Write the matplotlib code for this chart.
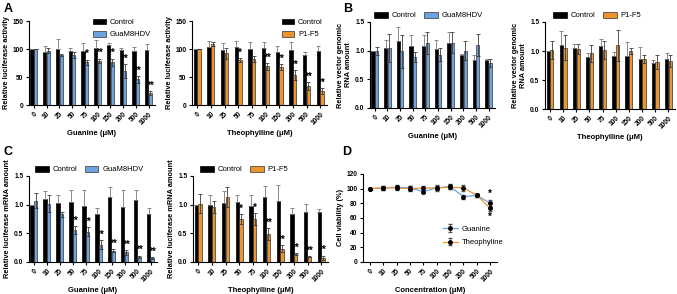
import matplotlib as mpl
mpl.use("agg")
import matplotlib.pyplot as plt
import numpy as np

plt.rcParams['font.family'] = ['Liberation Sans', 'DejaVu Sans']
plt.rcParams['font.weight'] = 'bold'

conc = ['0', '10', '25', '50', '75', '100', '150', '200', '500', '1000']

BLUE = '#6fa3e0'
ORANGE = '#eb9430'

# panel A - luciferase activity
a_gua_ctrl = [100, 95, 100, 97, 96, 101, 108, 99, 96, 98]
a_gua_ctrl_sd = [0, 10, 17, 5, 14, 15, 3, 3, 8, 11]
a_gua = [100, 97, 89, 89, 76, 79, 76, 61, 46, 21]
a_gua_sd = [0, 5, 2, 5, 5, 4, 7, 12, 6, 4]
a_gua_star = ['', '', '', '', '*', '**', '**', '**', '**', '**']

a_theo_ctrl = [100, 104, 98, 104, 100, 101, 95, 99, 90, 96]
a_theo_ctrl_sd = [0, 10, 12, 10, 13, 12, 10, 14, 4, 10]
a_theo = [100, 109, 92, 80, 82, 69, 68, 53, 34, 25]
a_theo_sd = [0, 3, 10, 4, 6, 6, 5, 9, 7, 5]
a_theo_star = ['', '', '', '*', '', '**', '**', '**', '**', '**']

# panel B - vector genomic RNA
b_gua_ctrl = [1.0, 1.05, 1.17, 1.09, 1.09, 1.03, 1.13, 0.92, 0.83, 0.83]
b_gua_ctrl_sd = [0, 0.14, 0.24, 0.18, 0.18, 0.16, 0.19, 0.03, 0.10, 0.03]
b_gua = [1.0, 1.05, 0.99, 0.89, 1.14, 0.93, 1.14, 1.00, 1.10, 0.79]
b_gua_sd = [0.07, 0.24, 0.29, 0.08, 0.19, 0.11, 0.18, 0.17, 0.19, 0.07]

b_theo_ctrl = [1.0, 1.10, 1.05, 0.90, 1.08, 0.91, 0.92, 0.87, 0.80, 0.87]
b_theo_ctrl_sd = [0, 0.25, 0.07, 0.06, 0.13, 0.07, 0.24, 0.20, 0.05, 0.10]
b_theo = [1.02, 1.06, 1.03, 0.96, 1.02, 1.10, 1.00, 0.86, 0.81, 0.83]
b_theo_sd = [0.15, 0.21, 0.09, 0.15, 0.15, 0.27, 0.05, 0.07, 0.12, 0.10]

# panel C - luciferase mRNA
c_gua_ctrl = [1.0, 1.10, 1.03, 1.05, 0.98, 0.84, 1.13, 0.96, 1.08, 0.83]
c_gua_ctrl_sd = [0, 0.14, 0.14, 0.21, 0.27, 0.10, 0.18, 0.29, 0.18, 0.11]
c_gua = [1.07, 1.02, 0.83, 0.55, 0.53, 0.30, 0.20, 0.17, 0.09, 0.07]
c_gua_sd = [0.13, 0.15, 0.05, 0.07, 0.08, 0.08, 0.02, 0.04, 0.02, 0.02]
c_gua_star = ['', '', '', '**', '**', '**', '**', '**', '**', '**']

c_theo_ctrl = [1.0, 0.99, 1.03, 1.05, 0.98, 1.14, 1.06, 0.84, 0.87, 0.87]
c_theo_ctrl_sd = [0, 0.17, 0.20, 0.12, 0.18, 0.18, 0.29, 0.10, 0.15, 0.06]
c_theo = [1.02, 0.96, 1.13, 0.75, 0.75, 0.49, 0.23, 0.14, 0.09, 0.07]
c_theo_sd = [0.17, 0.11, 0.17, 0.09, 0.10, 0.10, 0.06, 0.02, 0.01, 0.04]
c_theo_star = ['', '', '', '*', '*', '**', '**', '**', '**', '**']

# panel D - cell viability
d_gua = [100, 101, 102, 101, 96, 101, 103, 89, 91, 80]
d_gua_sd = [1, 3, 3, 3, 2, 3, 3, 3, 2, 5]
d_theo = [100, 101, 101, 100, 101, 101, 102, 101, 91, 73]
d_theo_sd = [1, 3, 3, 3, 3, 4, 3, 4, 2, 3]

W, H = 677, 294
fig = plt.figure(figsize=(W / 100, H / 100), dpi=100)
LEG = {'weight': 'normal', 'size': 5.5}


def add_ax(l, t, r, b):
    return fig.add_axes([l / W, 1 - b / H, (r - l) / W, (b - t) / H])


def style(ax, ymax, ystep, ylabel, xlabel, fmt):
    ax.set_ylim(0, ymax)
    ticks = np.arange(0, ymax + ystep / 2, ystep)
    ax.set_yticks(ticks)
    ax.set_yticklabels([fmt.format(v) for v in ticks])
    ax.set_xticks(range(10))
    ax.set_xticklabels(conc, rotation=45, ha='right', rotation_mode='anchor')
    ax.spines['top'].set_visible(False)
    ax.spines['right'].set_visible(False)
    for s in ('left', 'bottom'):
        ax.spines[s].set_linewidth(0.8)
    ax.tick_params(labelsize=4.8, width=0.8, length=2.5, pad=1.5)
    ax.set_ylabel(ylabel, fontsize=5.3, fontweight='bold', labelpad=2)
    ax.set_xlabel(xlabel, fontsize=5.5, fontweight='bold', labelpad=3)


def bars(ax, ctrl, ctrl_sd, trt, trt_sd, color, name, stars=None):
    x = np.arange(10)
    w = 0.25
    off = 0.14
    ax.bar(x - off, ctrl, w, color='black', edgecolor='black', lw=0.5, label='Control', zorder=2)
    ax.bar(x + off, trt, w, color=color, edgecolor='#333333', lw=0.5, label=name, zorder=2)
    ax.errorbar(x - off, ctrl, yerr=[np.zeros(10), ctrl_sd], fmt='none',
                ecolor='#777777', elinewidth=0.6, capsize=1.3, capthick=0.6, zorder=3)
    ax.errorbar(x + off, trt, yerr=trt_sd, fmt='none',
                ecolor='#3a3a3a', elinewidth=0.6, capsize=1.3, capthick=0.6, zorder=3)
    ax.set_xlim(-0.38, 9.5)
    if stars:
        top = ax.get_ylim()[1]
        for i, s in enumerate(stars):
            if s:
                ax.text(i + off, trt[i] + trt_sd[i] + 0.005 * top, s, ha='center',
                        va='bottom', fontsize=7, fontweight='bold')


# A
ax = add_ax(29, 21, 155, 105)
style(ax, 150, 50, 'Relative luciferase activity', 'Guanine (\u03bcM)', '{:.0f}')
bars(ax, a_gua_ctrl, a_gua_ctrl_sd, a_gua, a_gua_sd, BLUE, 'GuaM8HDV', a_gua_star)
ax.legend(loc='upper right', bbox_to_anchor=(1.02, 1.11), frameon=False,
          handlelength=1.6, handleheight=0.8, labelspacing=0.6, handletextpad=0.5, prop=LEG)

ax = add_ax(192, 21, 327, 105)
style(ax, 150, 50, 'Relative luciferase activity', 'Theophylline (\u03bcM)', '{:.0f}')
bars(ax, a_theo_ctrl, a_theo_ctrl_sd, a_theo, a_theo_sd, ORANGE, 'P1-F5', a_theo_star)
ax.legend(loc='upper right', bbox_to_anchor=(1.02, 1.11), frameon=False,
          handlelength=1.6, handleheight=0.8, labelspacing=0.6, handletextpad=0.5, prop=LEG)

# B
ax = add_ax(370, 22, 495, 108)
style(ax, 1.5, 0.5, 'Relative vector genomic\nRNA amount', 'Guanine (\u03bcM)', '{:.1f}')
bars(ax, b_gua_ctrl, b_gua_ctrl_sd, b_gua, b_gua_sd, BLUE, 'GuaM8HDV')
ax.legend(loc='lower center', bbox_to_anchor=(0.47, 0.95), ncol=2, frameon=False,
          handlelength=1.8, handleheight=0.8, columnspacing=1.0, handletextpad=0.5, prop=LEG)

ax = add_ax(545, 22, 675, 109)
style(ax, 1.5, 0.5, 'Relative vector genomic\nRNA amount', 'Theophylline (\u03bcM)', '{:.1f}')
bars(ax, b_theo_ctrl, b_theo_ctrl_sd, b_theo, b_theo_sd, ORANGE, 'P1-F5')
ax.legend(loc='lower center', bbox_to_anchor=(0.4, 0.95), ncol=2, frameon=False,
          handlelength=1.8, handleheight=0.8, columnspacing=1.0, handletextpad=0.5, prop=LEG)

# C
ax = add_ax(29, 176, 157, 262)
style(ax, 1.5, 0.5, 'Relative luciferase mRNA amount', 'Guanine (\u03bcM)', '{:.1f}')
bars(ax, c_gua_ctrl, c_gua_ctrl_sd, c_gua, c_gua_sd, BLUE, 'GuaM8HDV', c_gua_star)
ax.legend(loc='lower center', bbox_to_anchor=(0.47, 0.95), ncol=2, frameon=False,
          handlelength=1.8, handleheight=0.8, columnspacing=1.0, handletextpad=0.5, prop=LEG)

ax = add_ax(193, 176, 328, 262)
style(ax, 1.5, 0.5, 'Relative luciferase mRNA amount', 'Theophylline (\u03bcM)', '{:.1f}')
bars(ax, c_theo_ctrl, c_theo_ctrl_sd, c_theo, c_theo_sd, ORANGE, 'P1-F5', c_theo_star)
ax.legend(loc='lower center', bbox_to_anchor=(0.38, 0.95), ncol=2, frameon=False,
          handlelength=1.8, handleheight=0.8, columnspacing=1.0, handletextpad=0.5, prop=LEG)

# D
ax = add_ax(363, 174, 497, 262)
style(ax, 120, 20, 'Cell viability (%)', 'Concentration (\u03bcM)', '{:.0f}')
x = np.arange(10)
ax.errorbar(x, d_gua, yerr=d_gua_sd, color=BLUE, lw=0.9, marker='o', ms=2.5,
            mfc='black', mec='black', ecolor='#555555', elinewidth=0.6, capsize=1.3,
            label='Guanine')
ax.errorbar(x, d_theo, yerr=d_theo_sd, color=ORANGE, lw=0.9, marker='o', ms=2.5,
            mfc='black', mec='black', ecolor='#555555', elinewidth=0.6, capsize=1.3,
            label='Theophyline')
ax.text(9, d_gua[9] + d_gua_sd[9] + 0.5, '*', ha='center', va='bottom', fontsize=7, fontweight='bold')
ax.text(9, d_theo[9] - d_theo_sd[9] - 2, '*', ha='center', va='top', fontsize=7, fontweight='bold')
ax.set_xlim(-0.5, 9.5)
ax.legend(loc='lower right', bbox_to_anchor=(1.1, 0.1), frameon=False, handlelength=2.0,
          handletextpad=0.5, labelspacing=0.8, prop=LEG)

for lbl, px, py in [('A', 4, 3), ('B', 343, 3), ('C', 4, 146), ('D', 342, 146)]:
    fig.text(px / W, 1 - py / H, lbl, fontsize=9, fontweight='bold', va='top', ha='left')

fig.savefig('out.png', dpi=100)
